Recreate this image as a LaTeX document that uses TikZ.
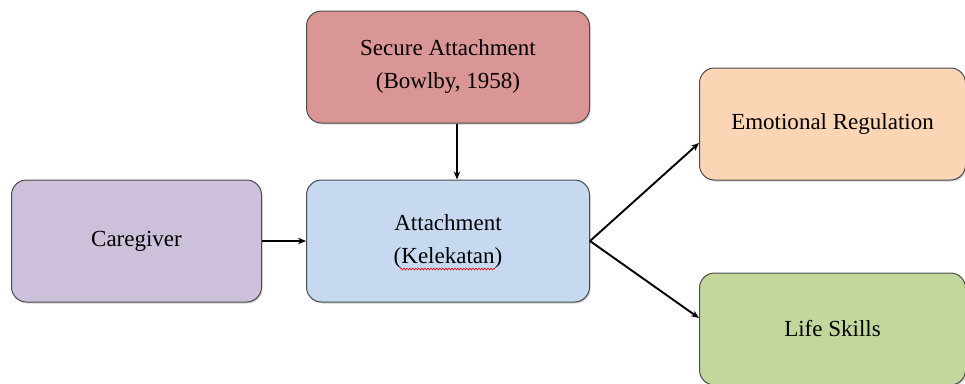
\documentclass[tikz,border=0pt]{standalone}
\usepackage{fontspec}
\setmainfont{Liberation Serif}
\usepackage{tikz}
\usetikzlibrary{arrows,arrows.meta,shapes,shadows}
\usetikzlibrary{positioning}
\usetikzlibrary{calc}
\usetikzlibrary{decorations.pathmorphing}
\definecolor{secfill}{RGB}{217,150,148}
\definecolor{carefill}{RGB}{204,192,218}
\definecolor{attfill}{RGB}{198,217,241}
\definecolor{emofill}{RGB}{252,213,181}
\definecolor{lifefill}{RGB}{195,214,155}
\tikzstyle{Abox}=[draw=black!70,line width=1pt,rounded corners=15pt,align=center,
                 inner sep=0,font=\fontsize{23}{33}\selectfont,
                 drop shadow={opacity=0.35,shadow xshift=1.2pt,shadow yshift=-1.5pt}]
\tikzstyle{Awide}=[Abox,minimum width=283pt,minimum height=122pt]
\tikzstyle{Aflow}=[-{Stealth[length=8pt,width=6.5pt]},line width=1.9pt]
\tikzstyle{spell}=[red,line width=0.6pt,decorate,
                 decoration={snake,amplitude=0.9pt,segment length=3pt}]

\begin{document}
\begin{tikzpicture}
  \useasboundingbox (0pt,0pt) rectangle (965pt,-383pt);

	\node[Awide,fill=attfill] (att) at (448pt,-241pt) {Attachment\\(Kelekatan)};
	\node[Abox,fill=secfill,minimum width=283pt,minimum height=112pt,above=56pt of att] (sec) {Secure Attachment\\(Bowlby, 1958)};
	\node[Abox,fill=carefill,minimum width=250pt,minimum height=122pt,left=44pt of att] (care) {Caregiver};
	\node[Abox,fill=emofill,minimum width=266pt,minimum height=112pt,right=109pt of att,yshift=117pt] (emo) {Emotional Regulation};
	\node[Abox,fill=lifefill,minimum width=266pt,minimum height=112pt,right=109pt of att,yshift=-88pt] (life) {Life Skills};

	\draw[spell] ($(att.center)+(-48pt,-28pt)$) -- ($(att.center)+(47pt,-28pt)$);

	\draw[Aflow] (care) -- (att);
	\draw[Aflow] ([xshift=9pt]sec.south) -- ([xshift=9pt]att.north);
	\draw[Aflow] (att.east) -- ([yshift=-19pt]emo.west);
	\draw[Aflow] (att.east) -- ([yshift=11pt]life.west);
\end{tikzpicture}
\end{document}
